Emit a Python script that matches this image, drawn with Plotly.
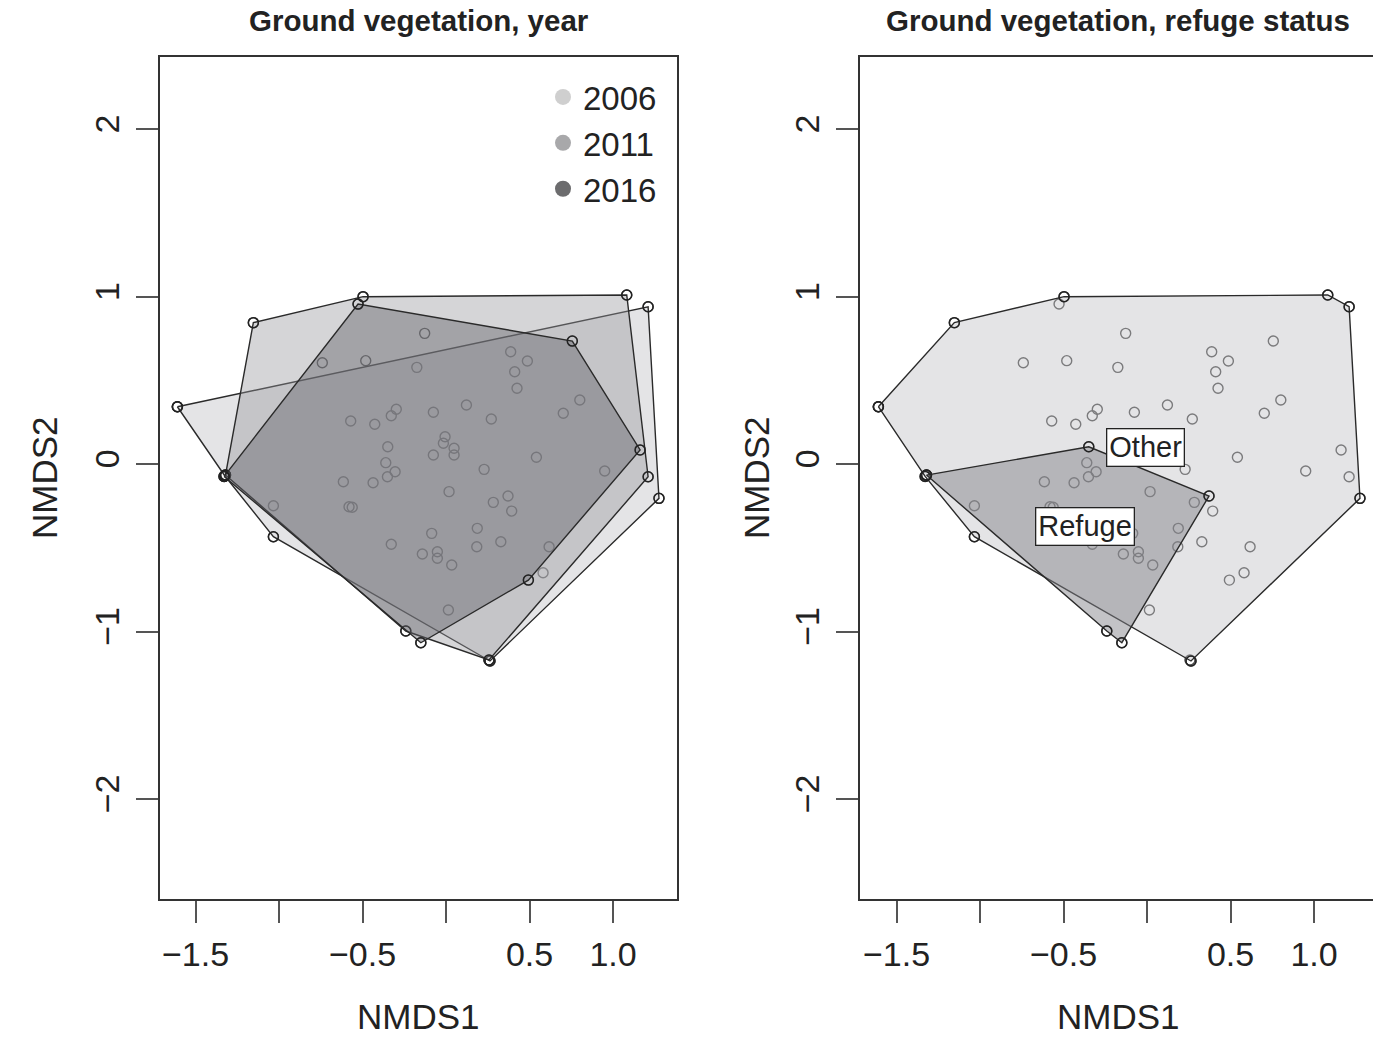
import plotly.graph_objects as go

# ---------------- data (NMDS site scores) ----------------
nmds1 = [-1.609, -1.154, -0.497, -0.527, 1.082, 1.210, 1.275, 0.263, 0.257, -0.151,
         -0.241, -1.034, -1.325, -1.321, -1.329, 1.162, 0.756, 1.210, 0.493, -0.349,
         0.371,
         -0.128, -0.741, -0.481, -0.175, 0.387, 0.487, 0.411, 0.425, 0.801, 0.702,
         -0.571, -0.427, -0.328, -0.298, -0.076, 0.122, 0.271, -0.361, 0.228, 0.541,
         0.950, -0.615, -0.437, -0.351, -0.305, -1.034, -0.581, -0.562, 0.018, 0.283,
         0.393, 0.187, 0.184, 0.328, -0.328, -0.142, -0.052, -0.052, 0.034, 0.581,
         0.617, 0.014, -0.006, -0.016, 0.048, 0.048, -0.076, -0.086]
nmds2 = [0.342, 0.844, 0.999, 0.955, 1.009, 0.939, -0.205, -1.176, -1.170, -1.067,
         -0.997, -0.434, -0.070, -0.066, -0.074, 0.084, 0.734, -0.076, -0.693, 0.103,
         -0.191,
         0.780, 0.605, 0.617, 0.577, 0.670, 0.615, 0.551, 0.452, 0.382, 0.303,
         0.257, 0.237, 0.288, 0.327, 0.309, 0.352, 0.269, 0.008, -0.032, 0.040,
         -0.042, -0.106, -0.112, -0.076, -0.046, -0.249, -0.255, -0.258, -0.165, -0.229,
         -0.281, -0.384, -0.494, -0.464, -0.479, -0.537, -0.524, -0.563, -0.603, -0.649,
         -0.494, -0.872, 0.163, 0.124, 0.094, 0.054, 0.054, -0.414]
year = [2006, 2011, 2011, 2016, 2011, 2006, 2006, 2006, 2011, 2016,
        2011, 2006, 2006, 2011, 2016, 2016, 2016, 2011, 2016, 2006,
        2006,
        2011, 2016, 2011, 2006, 2006, 2011, 2016, 2006, 2016, 2011,
        2006, 2011, 2016, 2016, 2006, 2011, 2016, 2016, 2006, 2011,
        2006, 2011, 2006, 2011, 2016, 2006, 2011, 2016, 2006, 2016,
        2011, 2006, 2016, 2011, 2016, 2006, 2011, 2016, 2006, 2011,
        2011, 2016, 2006, 2011, 2016, 2006, 2016, 2016]
status = ["Other", "Other", "Other", "Other", "Other", "Other", "Other", "Other", "Other", "Refuge",
          "Refuge", "Other", "Other", "Refuge", "Other", "Other", "Other", "Other", "Other", "Refuge",
          "Refuge",
          "Other", "Other", "Other", "Other", "Other", "Other", "Other", "Other", "Other", "Other",
          "Other", "Other", "Other", "Other", "Other", "Other", "Other", "Refuge", "Other", "Other",
          "Other", "Refuge", "Refuge", "Refuge", "Refuge", "Refuge", "Refuge", "Refuge", "Refuge", "Refuge",
          "Other", "Refuge", "Other", "Other", "Refuge", "Refuge", "Refuge", "Refuge", "Refuge", "Other",
          "Other", "Other", "Other", "Other", "Other", "Other", "Other", "Refuge"]

years = [2006, 2011, 2016]
year_labels = ["2006", "2011", "2016"]
groups = ["Other", "Refuge"]
group_label_pos = {"Other": (-0.012, 0.099), "Refuge": (-0.374, -0.373)}

# ---------------- styling ----------------
FONT = "Liberation Sans, Arial, Helvetica, sans-serif"
TXT = "#222222"
year_fill = {2006: "rgba(190,190,195,0.42)", 2011: "rgba(150,150,155,0.40)", 2016: "rgba(100,100,106,0.44)"}
year_dot = {2006: "#cfcfcf", 2011: "#a8a8aa", 2016: "#6c6c6e"}
group_fill = {"Other": "rgba(190,190,195,0.42)", "Refuge": "rgba(130,130,135,0.48)"}


def convex_hull(pts):
    pts = sorted(set(pts))
    if len(pts) <= 2:
        return pts

    def cross(o, a, b):
        return (a[0] - o[0]) * (b[1] - o[1]) - (a[1] - o[1]) * (b[0] - o[0])

    lower, upper = [], []
    for p in pts:
        while len(lower) >= 2 and cross(lower[-2], lower[-1], p) <= 0:
            lower.pop()
        lower.append(p)
    for p in reversed(pts):
        while len(upper) >= 2 and cross(upper[-2], upper[-1], p) <= 0:
            upper.pop()
        upper.append(p)
    return lower[:-1] + upper[:-1]


def hull_trace(mask, fill, xaxis, yaxis):
    pts = [(x, y) for x, y, m in zip(nmds1, nmds2, mask) if m]
    h = convex_hull(pts)
    h = h + [h[0]]
    return go.Scatter(
        x=[p[0] for p in h], y=[p[1] for p in h], mode="lines+markers",
        fill="toself", fillcolor=fill,
        line=dict(color="#2a2a2a", width=1.4),
        marker=dict(symbol="circle-open", size=10, color="#222222", line=dict(width=1.5)),
        xaxis=xaxis, yaxis=yaxis, showlegend=False, hoverinfo="skip",
    )


def points_trace(xaxis, yaxis):
    return go.Scatter(
        x=nmds1, y=nmds2, mode="markers",
        marker=dict(symbol="circle-open", size=10, color="#4a4a4a", line=dict(width=1.4)),
        xaxis=xaxis, yaxis=yaxis, showlegend=False, hoverinfo="skip",
    )


fig = go.Figure()

# left panel: year hulls
fig.add_trace(points_trace("x", "y"))
for yr in years:
    fig.add_trace(hull_trace([v == yr for v in year], year_fill[yr], "x", "y"))
for yr, lab in zip(years, year_labels):
    fig.add_trace(go.Scatter(x=[None], y=[None], mode="markers", name=lab,
                             marker=dict(size=18, color=year_dot[yr]),
                             xaxis="x", yaxis="y", showlegend=True))

# right panel: refuge status hulls
fig.add_trace(points_trace("x2", "y2"))
for g in groups:
    fig.add_trace(hull_trace([s == g for s in status], group_fill[g], "x2", "y2"))

W, H = 1373, 1037
left_dom = [160 / W, 677 / W]
right_dom = [860 / W, 1.0]
y_dom = [1 - 899 / H, 1 - 57 / H]

xticks = [-1.5, -1.0, -0.5, 0.0, 0.5, 1.0]
xticktext = ["\u22121.5", "", "\u22120.5", "", "0.5", "1.0"]
yticks = [-2, -1, 0, 1, 2]
yticktext = ["\u22122", "\u22121", "0", "1", "2"]

axis_common = dict(showgrid=False, zeroline=False, showline=True, linecolor="#333333",
                   linewidth=1.5, ticks="outside", ticklen=22, tickwidth=1.5,
                   tickcolor="#555555", tickfont=dict(family=FONT, size=34, color=TXT))

fig.update_layout(
    width=W, height=H, margin=dict(l=0, r=0, t=0, b=0),
    paper_bgcolor="white", plot_bgcolor="white",
    font=dict(family=FONT, color=TXT),
    xaxis=dict(domain=left_dom, range=[-1.713, 1.383], tickvals=xticks, ticktext=xticktext,
               mirror=True, anchor="y", ticklabelstandoff=2, **axis_common),
    yaxis=dict(domain=y_dom, range=[-2.597, 2.430], tickvals=yticks, ticktext=yticktext,
               mirror=True, anchor="x", tickangle=-90, ticklabelstandoff=4, **axis_common),
    xaxis2=dict(domain=right_dom, range=[-1.719, 1.353], tickvals=xticks, ticktext=xticktext,
                mirror=True, anchor="y2", ticklabelstandoff=2, **axis_common),
    yaxis2=dict(domain=y_dom, range=[-2.597, 2.430], tickvals=yticks, ticktext=yticktext,
                mirror=False, anchor="x2", tickangle=-90, ticklabelstandoff=4, **axis_common),
    legend=dict(x=543 / W, xanchor="left", y=1 - 69 / H, yanchor="top",
                bgcolor="rgba(0,0,0,0)", font=dict(family=FONT, size=33, color=TXT),
                tracegroupgap=0, itemwidth=30),
    showlegend=True,
)

ann = []
for cx, title in [(418.5 / W, "Ground vegetation, year"),
                  (1118 / W, "Ground vegetation, refuge status")]:
    ann.append(dict(x=cx, y=1 - 20 / H, xref="paper", yref="paper", text="<b>" + title + "</b>",
                    showarrow=False, font=dict(family=FONT, size=29.5, color=TXT),
                    xanchor="center", yanchor="middle"))
    ann.append(dict(x=cx, y=0, xref="paper", yref="paper", text="NMDS1",
                    showarrow=False, font=dict(family=FONT, size=35, color=TXT),
                    xanchor="center", yanchor="bottom", borderpad=0))
for cx in [45 / W, 757 / W]:
    ann.append(dict(x=cx, y=1 - 478 / H, xref="paper", yref="paper", text="NMDS2",
                    textangle=-90, showarrow=False, font=dict(family=FONT, size=35, color=TXT),
                    xanchor="center", yanchor="middle"))
for g in groups:
    gx, gy = group_label_pos[g]
    ann.append(dict(x=gx, y=gy, xref="x2", yref="y2", text=g, showarrow=False,
                    font=dict(family=FONT, size=29, color=TXT), bgcolor="white",
                    bordercolor="#222222", borderwidth=1.3, borderpad=2,
                    xanchor="center", yanchor="middle"))
fig.update_layout(annotations=ann)

fig.write_html("out.html")
